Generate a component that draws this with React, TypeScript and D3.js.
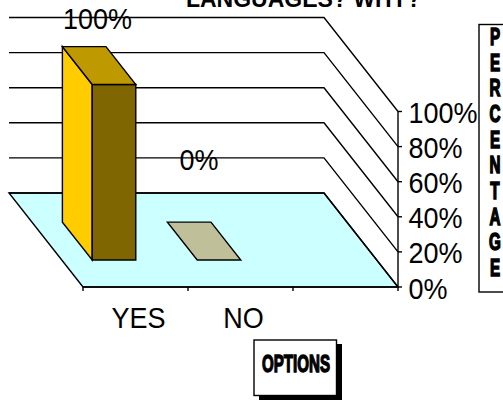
import React from "react";
import * as d3 from "d3";

const categories = ["YES", "NO"];
const values = [100, 0];
const valueLabels = ["100%", "0%"];
const yTicks = [0, 20, 40, 60, 80, 100];
const titleText = "LANGUAGES?  WHY?";
const yAxisTitle = "PERCENTAGE".split("");
const xAxisTitle = "OPTIONS";

const W = 503;
const H = 400;

// oblique projection: u along category axis, v height, d depth (0 front, 1 back)
const uScale = d3.scaleLinear().domain([0, 3]).range([83, 398]);
const vScale = d3.scaleLinear().domain([0, 100]).range([0, 175.5]);
const depthX = d3.scaleLinear().domain([0, 1]).range([0, -74]);
const depthY = d3.scaleLinear().domain([0, 1]).range([0, -94]);
const P = (u: number, v: number, d: number): [number, number] => [
  uScale(u) + depthX(d),
  287 - vScale(v) + depthY(d),
];
const poly = (pts: [number, number][]) => d3.line()(pts)! + "Z";

const barU0 = 0.29;
const barU1 = 0.705;
const barD0 = 0.287;
const barD1 = 0.69;

const sans = "'Liberation Sans', Arial, sans-serif";
const letterY = d3.scaleLinear().domain([0, 9]).range([45, 276]);
const LW = 1.4;

const Label = ({ x, y, anchor, children }: any) => (
  <text
    transform={`translate(${x},${y}) scale(1,1.1)`}
    textAnchor={anchor}
    fontFamily={sans}
    fontSize={27}
    fill="#000"
  >
    {children}
  </text>
);

export default function App() {
  return (
    <svg
      width={W}
      height={H}
      viewBox={`0 0 ${W} ${H}`}
      style={{ position: "absolute", left: 0, top: 0, background: "#fff" }}
    >
      <text x={303.5} y={6.5} textAnchor="middle" fontFamily={sans} fontWeight="bold" fontSize={23} fill="#000">
        {titleText}
      </text>

      {/* floor */}
      <path d={poly([P(0, 0, 0), P(3, 0, 0), P(3, 0, 1), P(0, 0, 1)])} fill="#CCFFFF" stroke="#000" strokeWidth={LW} />

      {/* gridlines */}
      {yTicks.map((t) => {
        const line = d3.line()([P(0, t, 1), P(3, t, 1), P(3, t, 0)]);
        return <path key={t} d={line!} fill="none" stroke="#000" strokeWidth={LW} />;
      })}

      {/* axes */}
      <line x1={P(3, 0, 0)[0]} x2={P(3, 100, 0)[0]} y1={P(3, 0, 0)[1]} y2={P(3, 100, 0)[1]} stroke="#000" strokeWidth={LW} />
      <line x1={P(0, 0, 0)[0]} x2={P(3, 0, 0)[0]} y1={287} y2={287} stroke="#000" strokeWidth={LW} />
      {d3.range(0, 4).map((i) => (
        <line key={i} x1={uScale(i)} x2={uScale(i)} y1={287} y2={291} stroke="#000" strokeWidth={LW} />
      ))}
      {yTicks.map((t) => {
        const [x, y] = P(3, t, 0);
        return (
          <g key={t}>
            <line x1={x} x2={x + 4} y1={y} y2={y} stroke="#000" strokeWidth={LW} />
            <Label x={x + 10.5} y={y + 11.5}>{t}%</Label>
          </g>
        );
      })}

      {/* bars */}
      {values.map((val, i) => {
        const u0 = i + barU0;
        const u1 = i + barU1;
        const side = [P(u0, 0, barD0), P(u0, val, barD0), P(u0, val, barD1), P(u0, 0, barD1)] as [number, number][];
        const front = [P(u0, 0, barD0), P(u1, 0, barD0), P(u1, val, barD0), P(u0, val, barD0)] as [number, number][];
        const top = [P(u0, val, barD0), P(u1, val, barD0), P(u1, val, barD1), P(u0, val, barD1)] as [number, number][];
        const flat = val === 0;
        return (
          <g key={categories[i]} stroke="#000" strokeWidth={LW} strokeLinejoin="miter">
            {!flat && <path d={poly(side)} fill="#FFCC00" />}
            {!flat && <path d={poly(front)} fill="#7F6600" />}
            <path d={poly(top)} fill={flat ? "#BFBF99" : "#BF9900"} />
          </g>
        );
      })}

      {/* value labels */}
      {values.map((val, i) => {
        const [x, y] = P(i + 0.5, val, 0.69);
        return (
          <Label key={i} x={x + (val === 0 ? 9.5 : 13)} y={y + (val === 0 ? -52 : -18)} anchor="middle">
            {valueLabels[i]}
          </Label>
        );
      })}

      {/* category labels */}
      {categories.map((c, i) => (
        <Label key={c} x={uScale(i + 0.5) + 3} y={328} anchor="middle">
          {c}
        </Label>
      ))}

      {/* y axis title box */}
      <rect x={479} y={24.5} width={40} height={267.5} fill="#fff" stroke="#000" strokeWidth={LW} />
      {yAxisTitle.map((ch, i) => (
        <text
          key={i}
          transform={`translate(495,${letterY(i)}) scale(0.76,1.22)`}
          textAnchor="middle"
          fontFamily={sans}
          fontWeight="bold"
          fontSize={20}
          stroke="#000"
          strokeWidth={1.3}
          fill="#000"
        >
          {ch}
        </text>
      ))}

      {/* x axis title box */}
      <rect x={259} y={344} width={83} height={56} fill="#000" />
      <rect x={254} y={340} width={82.5} height={55.5} fill="#fff" stroke="#000" strokeWidth={LW} />
      <text
        transform="translate(262,372) scale(0.755,1.2)"
        fontFamily={sans}
        fontWeight="bold"
        fontSize={20}
        stroke="#000"
        strokeWidth={1.2}
        fill="#000"
      >
        {xAxisTitle}
      </text>
    </svg>
  );
}
